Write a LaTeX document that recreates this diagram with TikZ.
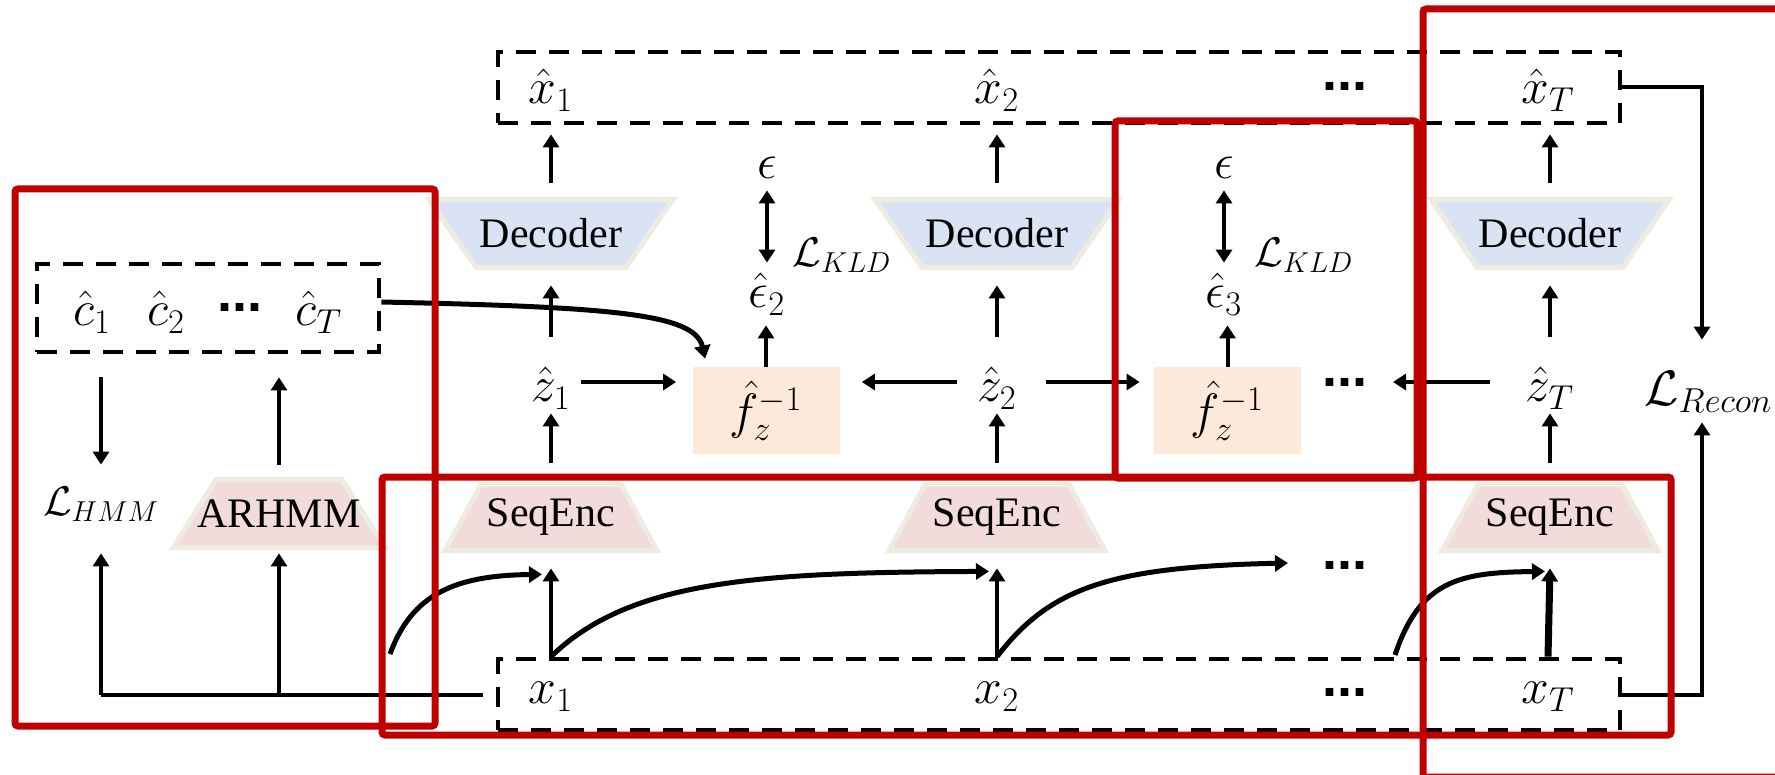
\documentclass[tikz,border=0pt]{standalone}
\usepackage{amsmath}
\usepackage[no-math]{fontspec}
\setmainfont{Liberation Serif}
\newfontfamily\dotfont{Liberation Sans}
\usetikzlibrary{arrows.meta,calc}

\definecolor{redbox}{HTML}{C00000}
\definecolor{decfill}{HTML}{DAE3F3}
\definecolor{encfill}{HTML}{F2DCDB}
\definecolor{rimcol}{HTML}{EEECE1}
\definecolor{invfill}{HTML}{FDE9D9}

\newcommand\mathsz{\fontsize{23}{27}\selectfont}
\newcommand\losssz{\fontsize{21.5}{25}\selectfont}
% #1 name, #2 cx, #3 cy, #4 top half width, #5 bottom half width,
% #6 half height of the outline, #7 fill, #8 text
\newcommand\trapbox[8]{%
  \filldraw[fill=#7, draw=rimcol, line width=2.5pt, line join=miter]
    ({#2-#4},{#3-#6}) -- ({#2+#4},{#3-#6}) -- ({#2+#5},{#3+#6}) -- ({#2-#5},{#3+#6}) -- cycle;
  \node[trapnode, minimum height=#6pt+2.5pt] (#1) at (#2,#3) {#8};}

\begin{document}
\begin{tikzpicture}[x=0.5pt, y=-0.5pt,
  conn/.style={line width=2pt},
  arr/.style={conn, -{Triangle[length=6.5pt,width=8pt]}},
  dblarr/.style={conn, {Triangle[length=6.5pt,width=8pt]}-{Triangle[length=6.5pt,width=8pt]}},
  curvearr/.style={arr, line width=2.5pt},
  dashbox/.style={draw, line width=2.4pt, dash pattern=on 10pt off 6.5pt, inner sep=0pt},
  redframe/.style={draw=redbox, line width=3.5pt, rounded corners=1.5pt},
  lab/.style={inner sep=0pt, font=\mathsz, minimum height=25pt},
  zlab/.style={lab, minimum width=30pt},
  losslab/.style={lab, font=\losssz},
  trapnode/.style={inner sep=0pt, font=\fontsize{21}{25}\selectfont, minimum width=70pt},
  invbox/.style={fill=invfill, inner sep=0pt, minimum width=73.5pt, minimum height=43.5pt, font=\mathsz},
  dots/.style={inner sep=0pt, font=\dotfont\bfseries\fontsize{27}{30}\selectfont}
]
\useasboundingbox (0,0) rectangle (1775,775);

% ---- dashed frames ----
\node[dashbox, minimum width=561pt, minimum height=35.5pt] (xhbox) at (1059,87.5) {};
\node[dashbox, minimum width=561pt, minimum height=35.5pt] (xbox) at (1059,694.5) {};
\node[dashbox, minimum width=171pt, minimum height=44pt] (cbox) at (208,308) {};

% ---- reconstructed outputs ----
\node[lab] (xh1) at (551,90) {$\hat{x}_1$};
\node[lab] (xh2) at (997,90) {$\hat{x}_2$};
\node[dots] (xhdots) at (1345,86) {...};
\node[lab] (xhT) at (1548,90) {$\hat{x}_T$};

% ---- inputs ----
\node[lab] (x1) at (551,697) {$x_1$};
\node[lab] (x2) at (997,697) {$x_2$};
\node[dots] (xdots) at (1345,692) {...};
\node[lab] (xT) at (1548,697) {$x_T$};

% ---- state estimates ----
\node[lab] (c1) at (92,312) {$\hat{c}_1$};
\node[lab] (c2) at (166,312) {$\hat{c}_2$};
\node[dots] (cdots) at (240,307) {...};
\node[lab] (cT) at (319,312) {$\hat{c}_T$};

% ---- decoders and encoders ----
\trapbox{dec1}{551}{233.5}{122}{75}{34}{decfill}{Decoder}
\trapbox{dec2}{997}{233.5}{122}{75}{34}{decfill}{Decoder}
\trapbox{dec3}{1550}{233.5}{119}{73}{34}{decfill}{Decoder}
\trapbox{se1}{551}{517.5}{70}{106}{33}{encfill}{SeqEnc}
\trapbox{se2}{997}{517.5}{72}{108}{33}{encfill}{SeqEnc}
\trapbox{seT}{1550}{517.5}{72}{108}{33}{encfill}{SeqEnc}
\trapbox{ar}{279}{513.5}{63}{106}{34}{encfill}{ARHMM}

% ---- latents and inverse transitions ----
\node[zlab] (z1) at (551,388) {$\hat{z}_1$};
\node[zlab] (z2) at (997,388) {$\hat{z}_2$};
\node[dots] (zdots) at (1345,382) {...};
\node[zlab] (zT) at (1550,388) {$\hat{z}_T$};
\node[invbox] (f1) at (766,410.5) {$\hat{f}_z^{-1}$};
\node[invbox] (f2) at (1227.5,410.5) {$\hat{f}_z^{-1}$};

% ---- noise terms and losses ----
\node[lab] (eps1) at (767,168) {$\epsilon$};
\node[lab] (epsh2) at (767,294) {$\hat{\epsilon}_2$};
\node[losslab, anchor=west] (kld1) at (792,255) {$\mathcal{L}_{KLD}$};
\node[lab] (eps2) at (1224,168) {$\epsilon$};
\node[lab] (epsh3) at (1224,294) {$\hat{\epsilon}_3$};
\node[losslab, anchor=west] (kld2) at (1254,255) {$\mathcal{L}_{KLD}$};
\node[losslab, minimum height=20pt] (lhmm) at (101,504) {$\mathcal{L}_{HMM}$};
\node[lab, anchor=west, minimum height=30pt] (lrec) at (1644,392) {$\mathcal{L}_{Recon}$};

\node[dots] (mdots) at (1345,565) {...};

% ---- vertical arrows ----
\foreach \d/\z/\s in {dec1/z1/se1, dec2/z2/se2, dec3/zT/seT}{
  \draw[arr, shorten <=7pt, shorten >=4.5pt] (\d.north) -- (\d.north |- xhbox.south);
  \draw[arr, shorten <=13pt, shorten >=7.5pt] (\z.north) -- (\d.south);
  \draw[arr, shorten <=9.5pt] (\s.north) -- (\z.south);
}
\draw[arr] (x1 |- xbox.north) -- ([yshift=-7.5pt]se1.south);
\draw[arr] (x2 |- xbox.north) -- ([yshift=-7.5pt]se2.south);
\draw[arr, line width=3.5pt] (xT |- xbox.north) -- ([yshift=-7.5pt]seT.south);

% ---- latent row ----
\draw[arr, shorten >=8pt] ([yshift=3pt]z1.east) -- ([yshift=3pt]z1.east -| f1.west);
\draw[arr, shorten <=5pt, shorten >=11pt] ([yshift=3pt]z2.west) -- ([yshift=3pt]z2.west -| f1.east);
\draw[arr, shorten <=9.5pt, shorten >=7pt] ([yshift=3pt]z2.east) -- ([yshift=3pt]z2.east -| f2.west);
\draw[arr, shorten <=15pt, shorten >=24pt] ([yshift=3pt]zT.west) -- ([yshift=3pt]zT.west -| zdots.center);

% ---- noise and KL terms ----
\draw[arr, shorten >=3pt] (f1.north) -- (f1.north |- epsh2.south);
\draw[arr, shorten >=3pt] (f2.north) -- (f2.north |- epsh3.south);
\draw[dblarr, shorten <=-1.5pt, shorten >=3pt] (eps1.south) -- (epsh2.north);
\draw[dblarr, shorten <=-1.5pt, shorten >=3pt] (eps2.south) -- (epsh3.north);

% ---- HMM branch ----
\coordinate (jl) at (lhmm |- xbox.west);
\draw[conn, shorten <=6.5pt] (xbox.west) -- (jl);
\draw[arr, shorten >=14.5pt] (jl) -- (lhmm.south);
\draw[arr, shorten >=1.5pt] (ar |- jl) -- (ar.south);
\draw[arr, shorten <=11.5pt, shorten >=9.5pt] (lhmm |- cbox.south) -- (lhmm.north);
\draw[arr, shorten <=6pt, shorten >=11.5pt] (ar.north) -- (ar.north |- cbox.south);
\draw[curvearr] ([yshift=3pt]cbox.east) .. controls +(230,5) and +(-10,-45) .. ([xshift=6.5pt,yshift=4pt]f1.north west);

% ---- reconstruction loss ----
\draw[arr, shorten >=11pt] (xhbox.east) -| ([xshift=29pt]lrec.north west);
\draw[arr] (xbox.east) -| ([xshift=29pt]lrec.south west);

% ---- sequence links between inputs ----
\coordinate (s0) at (390,654);
\coordinate (s1) at (1395,655);
\draw[curvearr] (s0) .. controls +(22,-60) and +(-87,1) .. ([xshift=-4.5pt,yshift=-10.5pt]se1.south);
\draw[curvearr] (x1 |- xbox.north) .. controls +(79,-77) and +(-229,1) .. ([xshift=-4pt,yshift=-9pt]se2.south);
\draw[curvearr] (x2 |- xbox.north) .. controls +(53,-69) and +(-178,4) .. ([xshift=-28.5pt,yshift=1pt]mdots.center);
\draw[curvearr] (s1) .. controls +(25,-75) and +(-85,1) .. ([xshift=-2.5pt,yshift=-9pt]seT.south);

% ---- highlighted regions ----
\draw[redframe] (15,189) rectangle (435,726);
\draw[redframe] (382,477) rectangle (1671,735);
\draw[redframe] (1115,121) rectangle (1417,478);
\draw[redframe] (1423,9) rectangle (1900,777);
\end{tikzpicture}
\end{document}
